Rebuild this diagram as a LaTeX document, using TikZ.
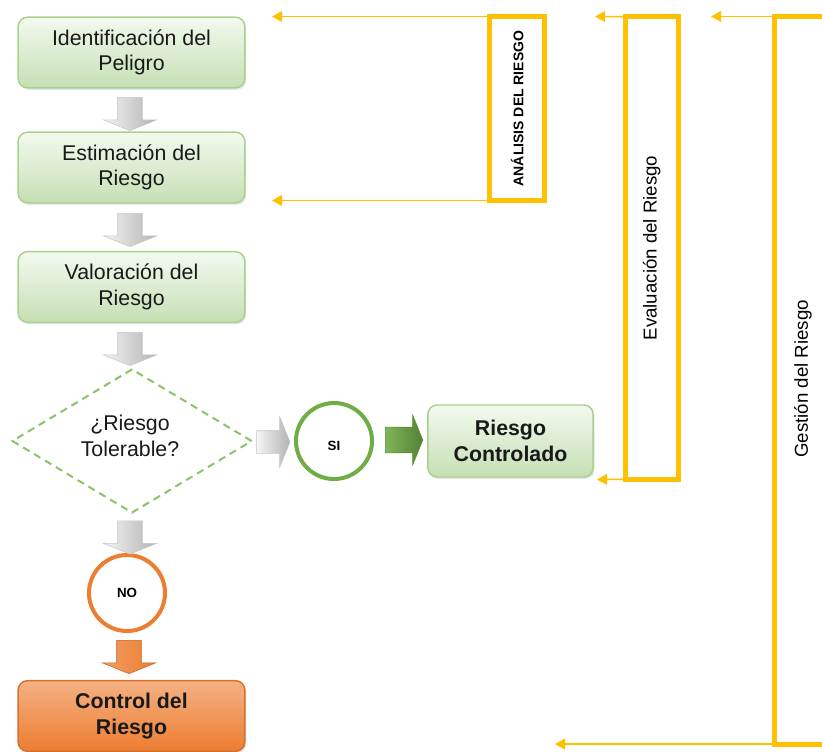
\documentclass[tikz,border=0pt]{standalone}
\usepackage{fontspec}
\setmainfont{Liberation Sans}
\usetikzlibrary{arrows.meta, positioning, shapes.geometric, shapes.arrows, shadows}

\definecolor{verdeborde}{HTML}{A9D18E}
\definecolor{verdeclaro}{HTML}{F3F9EF}
\definecolor{verdemedio}{HTML}{C5E0B4}
\definecolor{verdefuerte}{HTML}{70AD47}
\definecolor{verderombo}{HTML}{8CC26A}
\definecolor{naranja}{HTML}{ED7D31}
\definecolor{naranjaclaro}{HTML}{F5B183}
\definecolor{amarillo}{HTML}{FFC000}

\tikzset{
  paso/.style={shape=rectangle, rounded corners=7pt, draw=verdeborde, line width=1.1pt,
    top color=verdeclaro, bottom color=verdemedio, minimum width=170pt, minimum height=53pt,
    align=center, font=\fontsize{16}{19}\selectfont, text=black!90,
    drop shadow={opacity=0.2, shadow xshift=1pt, shadow yshift=-1.5pt}},
  flecha/.style={shape=single arrow, inner xsep=0pt, inner ysep=9pt, single arrow head extend=11pt,
    single arrow tip angle=136, minimum width=0pt, minimum height=25pt},
  flechagris/.style={flecha, draw=gray!45, line width=0.4pt, left color=gray!8, right color=gray!60},
  circulo/.style={shape=circle, line width=3pt, minimum size=57pt, inner sep=0pt,
    font=\bfseries\fontsize{10}{12}\selectfont},
  marco/.style={shape=rectangle, draw=amarillo, line width=3.75pt, rotate=90, inner sep=0pt, outer sep=0pt},
  guia/.style={draw=amarillo, line width=1.1pt, -{Triangle[length=7.5pt,width=8pt]}}
}

\begin{document}
\begin{tikzpicture}[x=0.75pt, y=-0.75pt]
        \useasboundingbox (0,0) rectangle (822,751);

        % pasos del proceso
        \node[paso] (ident) at (131.5,52.5) {Identificación del\\Peligro};
        \node[paso] (estim) at (131.5,167.5) {Estimación del\\Riesgo};
        \node[paso] (valor) at (131.5,287) {Valoración del\\Riesgo};
        \node[shape=diamond, draw=verderombo, line width=1.5pt, dash pattern=on 5.5pt off 4pt,
              minimum width=180pt, minimum height=108pt, inner sep=0pt, align=center,
              font=\fontsize{16}{19}\selectfont, text=black!90] (tolera) at (132,441) {};
        \node[align=center, font=\fontsize{16}{19}\selectfont, text=black!90] (pregunta) at (130,436) {¿Riesgo\\Tolerable?};
        \node[circulo, draw=verdefuerte] (si) at (334,441) {};
        \node[font=\bfseries\fontsize{10}{12}\selectfont] (silbl) at (334,446) {SI};
        \node[paso, minimum width=124pt, minimum height=54pt, font=\bfseries\fontsize{16}{19}\selectfont]
              (contr) at (510.5,441) {Riesgo\\Controlado};
        \node[circulo, draw=naranja] (no) at (127,593) {NO};
        \node[paso, draw=naranja!90!black, top color=naranjaclaro, bottom color=naranja,
              font=\bfseries\fontsize{16}{19}\selectfont] (control) at (131.5,716) {Control del\\Riesgo};

        % flechas de bloque
        \node[flechagris, rotate=-90] (f1) at (130,111.5) {};
        \node[flechagris, rotate=-90] (f2) at (130,227.5) {};
        \node[flechagris, rotate=-90] (f3) at (130,346.5) {};
        \node[flechagris, inner ysep=8.25pt, single arrow head extend=10.5pt] (f4) at (271,442) {};
        \node[flecha, inner ysep=9.5pt, single arrow head extend=9pt, minimum height=28pt,
              draw=verdefuerte!80!black, line width=0.4pt, left color=verdefuerte!90, right color=verdefuerte!75!black] (f5) at (401.5,440) {};
        \node[flechagris, rotate=-90] (f6) at (130,535) {};
        \node[flecha, rotate=-90, draw=naranja!80!black, line width=0.4pt,
              left color=naranja!75, right color=naranja] (f7) at (129,654.5) {};

        % marcos amarillos
        \node[marco, minimum width=138pt, minimum height=41pt,
              font=\bfseries\fontsize{10.5}{12}\selectfont] (analisis) at (517.25,108.5) {ANÁLISIS DEL RIESGO};
        \node[marco, minimum width=347pt, minimum height=39.4pt,
              font=\fontsize{14}{16}\selectfont] (evalua) at (651.75,248) {Evaluación del Riesgo};
        \node[rotate=90, font=\fontsize{14}{16}\selectfont] (gestion) at (803,379) {Gestión del Riesgo};

        \coordinate (gA) at (822,16.5);
        \coordinate (gB) at (774.5,16.5);
        \coordinate (gC) at (774.5,744);
        \coordinate (gD) at (822,744);
        \draw[draw=amarillo, line width=3.75pt] (gA) -- (gB) -- (gC) -- (gD);

        \coordinate (tA1) at (272,16.5);
        \coordinate (tA2) at (272,200.5);
        \coordinate (tE1) at (595,16.5);
        \coordinate (tE2) at (597,479.5);
        \coordinate (tG1) at (711,16.5);
        \coordinate (tG2) at (555,744);

        \draw[guia] (analisis.north east) -- (tA1);
        \draw[guia] (analisis.north west) -- (tA2);
        \draw[guia] (evalua.north east) -- (tE1);
        \draw[guia] (evalua.north west) -- (tE2);
        \draw[guia] (gB) -- (tG1);
        \draw[guia] (gC) -- (tG2);

    \end{tikzpicture}
\end{document}
